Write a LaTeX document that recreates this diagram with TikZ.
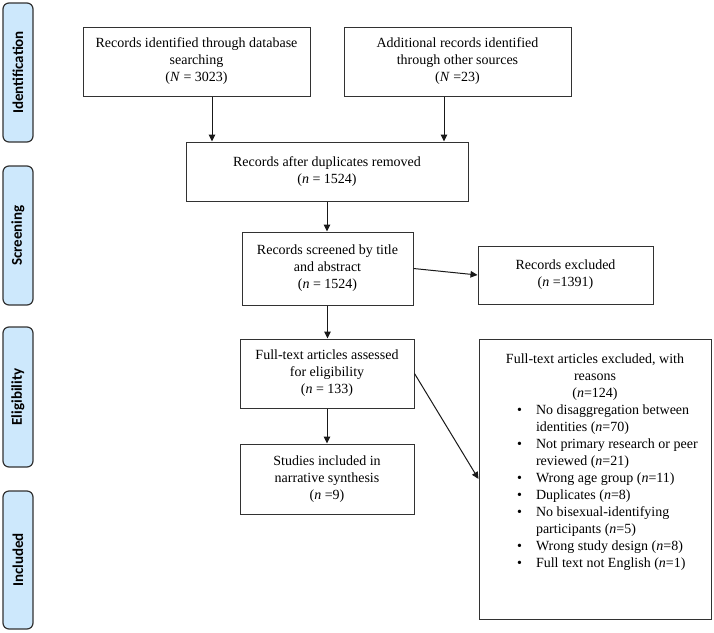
\documentclass[tikz,border=0pt]{standalone}
\usepackage{fontspec}
\setmainfont{Liberation Serif}
\newfontfamily\sidefont{Carlito}
\usetikzlibrary{arrows.meta}
\definecolor{sidefill}{RGB}{205,232,252}
\definecolor{edge}{RGB}{50,50,50}
\newcommand\bitem[1]{\par\noindent\hangindent=57pt\hangafter=1\makebox[57pt][l]{\hspace{38pt}\textbullet}#1}
\tikzset{
  box/.style={draw=edge, line width=1pt, align=center, inner sep=0pt,
    font=\fontsize{14}{17}\selectfont},
  side/.style={draw=edge, line width=1.2pt, fill=sidefill, rounded corners=6pt,
    minimum width=30pt, inner sep=0pt, font=\sidefont\bfseries\fontsize{15}{17}\selectfont},
  sidetext/.style={rotate=90, inner sep=0pt, font=\sidefont\bfseries\fontsize{15}{17}\selectfont},
  arr/.style={draw=black!90, line width=1pt, -{Triangle[length=7pt,width=6.5pt]}}
}
\begin{document}
\begin{tikzpicture}[x=1pt,y=-1pt]
\useasboundingbox (0,0) rectangle (714,632);
% side labels
\node[side, minimum height=139pt] (sid) at (18,72.5) {};
\node[sidetext] (sidt) at (sid.center) {Identification};
\node[side, minimum height=139pt] (sscr) at (18,235.5) {};
\node[sidetext] (sscrt) at (sscr.center) {Screening};
\node[side, minimum height=140pt] (selig) at (18,397) {};
\node[sidetext] (seligt) at (selig.center) {Eligibility};
\node[side, minimum height=138pt] (sinc) at (18,560) {};
\node[sidetext] (sinct) at (sinc.center) {Included};
% boxes
\node[box, minimum width=227pt, minimum height=69pt] (b1) at (196.5,61.5)
  {Records identified through database\\ searching\\ (\textit{N} = 3023)};
\node[box, minimum width=227pt, minimum height=69pt] (b2) at (457.5,61.5)
  {Additional records identified\\ through other sources\\ (\textit{N} =23)};
\node[box, minimum width=282pt, minimum height=59pt] (b3) at (327,171.5)
  {Records after duplicates removed\\ (\textit{n} = 1524)};
\node[box, minimum width=171pt, minimum height=73pt] (b4) at (327.5,268.5)
  {Records screened by title\\ and abstract\\ (\textit{n} = 1524)};
\node[box, minimum width=175pt, minimum height=58pt] (e1) at (565.5,275)
  {Records excluded\\ (\textit{n} =1391)};
\node[box, minimum width=174pt, minimum height=69pt] (b5) at (327,373.5)
  {Full-text articles assessed\\ for eligibility\\ (\textit{n} = 133)};
\node[box, minimum width=174pt, minimum height=70pt] (b6) at (327,479)
  {Studies included in\\ narrative synthesis\\ (\textit{n} =9)};
\node[box, align=left] (e2) at (595,479)
  {\parbox[c][280pt][t]{232pt}{\fontsize{14}{17}\selectfont\vspace*{15pt}%
   {\centering Full-text articles excluded, with\\ reasons\\ (\textit{n}=124)\par}%
   \raggedright
   \bitem{No disaggregation between\newline identities (\textit{n}=70)}
   \bitem{Not primary research or peer\newline reviewed (\textit{n}=21)}
   \bitem{Wrong age group (\textit{n}=11)}
   \bitem{Duplicates (\textit{n}=8)}
   \bitem{No bisexual-identifying\newline participants (\textit{n}=5)}
   \bitem{Wrong study design (\textit{n}=8)}
   \bitem{Full text not English (\textit{n}=1)}\par}};
% connectors
\draw[arr] ([xshift=15.5pt]b1.south) -- ([xshift=15.5pt]b1.south |- b3.north);
\draw[arr] ([xshift=-13.5pt]b2.south) -- ([xshift=-13.5pt]b2.south |- b3.north);
\draw[arr] (b3.south) -- (b3.south |- b4.north);
\draw[arr] (b4.south) -- (b4.south |- b5.north);
\draw[arr] (b5.south) -- (b5.south |- b6.north);
\draw[arr] (b4.east) -- (e1.west);
\draw[arr] (b5.east) -- (e2.west);
\end{tikzpicture}
\end{document}
